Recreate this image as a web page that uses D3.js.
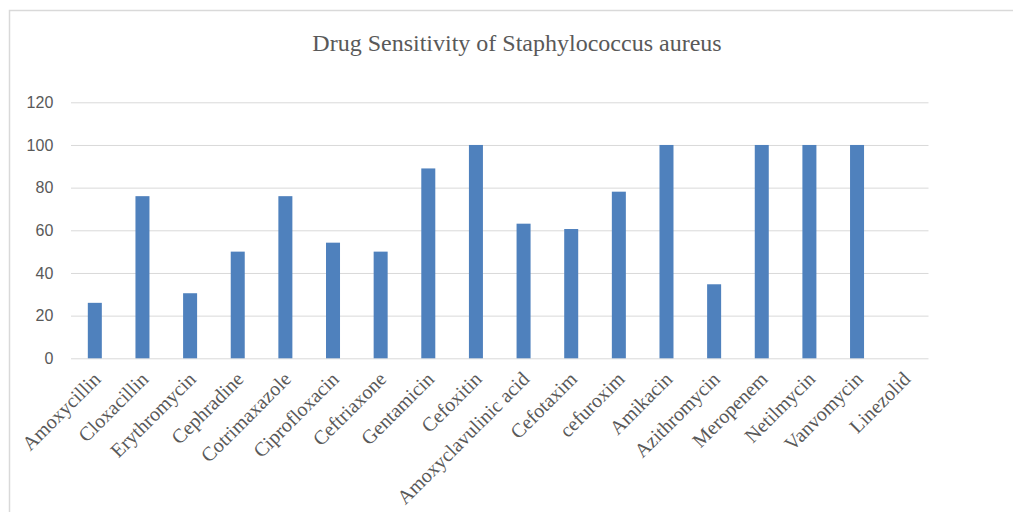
<!DOCTYPE html>
<html><head><meta charset="utf-8">
<script src="https://cdn.jsdelivr.net/npm/d3@7"></script>
<style>body{margin:0;background:#fff;}svg{display:block;}</style>
</head><body>
<script>
const categories = ["Amoxycillin","Cloxacillin","Erythromycin","Cephradine","Cotrimaxazole","Ciprofloxacin","Ceftriaxone","Gentamicin","Cefoxitin","Amoxyclavulinic acid","Cefotaxim","cefuroxim","Amikacin","Azithromycin","Meropenem","Netilmycin","Vanvomycin","Linezolid"];
const values = [26,76,30.5,50,76,54.2,50,89,100,63.1,60.6,78.1,100,34.7,100,100,100,0];
const yTicks = [0,20,40,60,80,100,120];
const title = "Drug Sensitivity of Staphylococcus aureus";

const W = 1013, H = 512;
const m = {left:71, right:W-928.5, top:102.3, bottom:H-358.3};
const svg = d3.select("body").append("svg").attr("width",W).attr("height",H);
svg.append("rect").attr("x",9.5).attr("y",10.5).attr("width",W+20).attr("height",H+20)
  .attr("fill","#fff").attr("stroke","#d9d9d9").attr("stroke-width",1.5);

const x = d3.scaleBand().domain(categories).range([m.left, W-m.right]).paddingInner(0.706).paddingOuter(0.353);
const y = d3.scaleLinear().domain([0,120]).range([H-m.bottom, m.top]);

const g = svg.append("g");
const yAxis = g.append("g").attr("transform",`translate(${m.left},0)`)
  .call(d3.axisLeft(y).tickValues(yTicks).tickSize(-(W-m.right-m.left)).tickPadding(17.7));
yAxis.select(".domain").remove();
yAxis.selectAll(".tick line").attr("stroke","#d9d9d9").attr("stroke-width",1);
yAxis.selectAll(".tick text").attr("fill","#595959").style("font-family","'Liberation Sans', Arial, sans-serif").style("font-size","16px");

g.selectAll("rect.bar").data(values).join("rect").attr("class","bar")
  .attr("x",(d,i)=>x(categories[i])).attr("width",x.bandwidth())
  .attr("y",d=>y(d)).attr("height",d=>y(0)-y(d))
  .attr("fill","#4f81bd");

const xAxis = g.append("g").attr("transform",`translate(0,${H-m.bottom})`)
  .call(d3.axisBottom(x).tickSize(0).tickPadding(0));
xAxis.select(".domain").remove();
xAxis.selectAll(".tick text")
  .attr("fill","#595959")
  .style("font-family","'Liberation Serif','Times New Roman',serif").style("font-size","20px")
  .attr("text-anchor","end")
  .attr("transform","translate(7,22) rotate(-45)")
  .attr("dy","0").attr("y",0);

svg.append("text").attr("x",517).attr("y",50.7).attr("text-anchor","middle")
  .attr("fill","#595959").style("font-family","'Liberation Serif','Times New Roman',serif").style("font-size","24px")
  .text(title);
</script>
</body></html>
